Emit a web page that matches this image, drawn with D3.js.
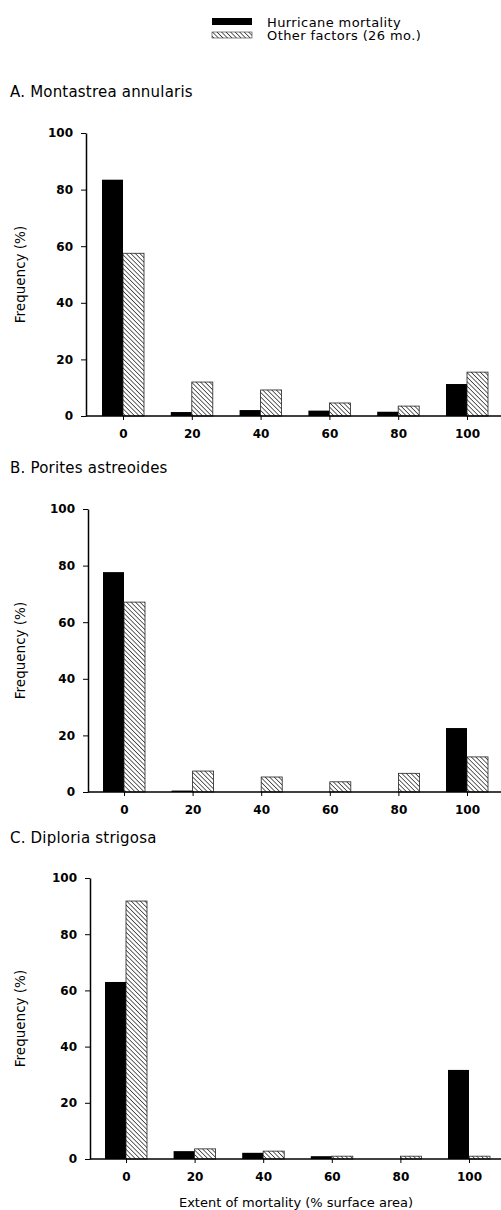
<!DOCTYPE html>
<html>
<head>
<meta charset="utf-8">
<script src="https://cdn.jsdelivr.net/npm/d3@7"></script>
<style>
  body { margin: 0; background: #fff; }
  svg { display: block; font-family: "DejaVu Sans", sans-serif; }
</style>
</head>
<body>
<div id="chart"></div>
<script>

// Data
const categories = [0, 20, 40, 60, 80, 100];
const panelTitles = ["A. Montastrea annularis", "B. Porites astreoides", "C. Diploria strigosa"];
const hurricaneA = [83.5, 1.4, 2.1, 1.9, 1.5, 11.3];
const otherA = [57.5, 12, 9.2, 4.6, 3.5, 15.5];
const hurricaneB = [77.7, 0.5, 0, 0, 0, 22.6];
const otherB = [67.1, 7.4, 5.3, 3.6, 6.6, 12.4];
const hurricaneC = [63, 2.8, 2.2, 1, 0, 31.7];
const otherC = [91.8, 3.6, 2.8, 1, 1, 1];
const yTicks = [0, 20, 40, 60, 80, 100];
const legendLabels = ["Hurricane mortality", "Other factors (26 mo.)"];

const width = 501, height = 1210;
const font = "DejaVu Sans, sans-serif";

const svg = d3.select("#chart")
  .append("svg")
    .attr("width", width)
    .attr("height", height);

//Hatch pattern for "other factors", lines running top-left to bottom-right
const defs = svg.append("defs");
const pattern = defs.append("pattern")
  .attr("id", "hatch")
  .attr("patternUnits", "userSpaceOnUse")
  .attr("width", 3.2)
  .attr("height", 3.2)
  .attr("patternTransform", "rotate(45)");
pattern.append("rect")
  .attr("width", 3.2).attr("height", 3.2).attr("fill", "#fff");
pattern.append("line")
  .attr("x1", 0).attr("y1", 0).attr("x2", 3.2).attr("y2", 0)
  .attr("stroke", "#111").attr("stroke-width", 1.3);

//Legend
const legend = svg.append("g");
legend.append("rect")
  .attr("x", 212).attr("y", 18).attr("width", 40).attr("height", 7)
  .attr("fill", "#000");
legend.append("rect")
  .attr("x", 212).attr("y", 32).attr("width", 40).attr("height", 6)
  .attr("fill", "url(#hatch)").attr("stroke", "#333").attr("stroke-width", 0.6);
legend.selectAll("text")
  .data(legendLabels)
  .join("text")
    .attr("x", 267)
    .attr("y", (d, i) => 27 + i * 13)
    .attr("font-size", 13)
    .attr("letter-spacing", 0.4)
    .text(d => d);

//Panel layout
const panels = [
  { title: panelTitles[0], hurricane: hurricaneA, other: otherA, titleY: 97,  axisX: 86, y0: 416,  y100: 133, x0: 123, x100: 467 },
  { title: panelTitles[1], hurricane: hurricaneB, other: otherB, titleY: 473, axisX: 88, y0: 792,  y100: 509, x0: 124, x100: 467 },
  { title: panelTitles[2], hurricane: hurricaneC, other: otherC, titleY: 843, axisX: 90, y0: 1159, y100: 878, x0: 126, x100: 469 }
];

const barW = 21;

panels.forEach((p, pi) => {

  const g = svg.append("g");

  const xScale = d3.scaleLinear().domain([0, 100]).range([p.x0, p.x100]);
  const yScale = d3.scaleLinear().domain([0, 100]).range([p.y0, p.y100]);

  g.append("text")
    .attr("x", 10)
    .attr("y", p.titleY)
    .attr("font-size", 15)
    .attr("letter-spacing", 0.2)
    .text(p.title);

  //Bars
  const rows = categories.map((c, i) => ({ c, h: p.hurricane[i], o: p.other[i] }));

  g.selectAll(".hur")
    .data(rows)
    .join("rect")
      .attr("class", "hur")
      .attr("x", d => xScale(d.c) - barW)
      .attr("y", d => yScale(d.h))
      .attr("width", barW)
      .attr("height", d => yScale(0) - yScale(d.h))
      .attr("fill", "#000");

  g.selectAll(".oth")
    .data(rows.filter(d => d.o > 0))
    .join("rect")
      .attr("class", "oth")
      .attr("x", d => xScale(d.c))
      .attr("y", d => yScale(d.o))
      .attr("width", barW)
      .attr("height", d => yScale(0) - yScale(d.o))
      .attr("fill", "url(#hatch)")
      .attr("stroke", "#222")
      .attr("stroke-width", 0.8);

  //Y axis
  const yAxis = g.append("g")
    .attr("transform", `translate(${p.axisX},0)`)
    .call(d3.axisLeft(yScale).tickValues(yTicks).tickSize(5).tickPadding(8).tickSizeOuter(0));
  yAxis.select(".domain").attr("stroke-width", 1.5);
  yAxis.selectAll("text").attr("font-size", 12).attr("font-weight", "bold").attr("font-family", font);

  //X axis, baseline to the right edge
  const xAxis = g.append("g")
    .attr("transform", `translate(0,${p.y0})`)
    .call(d3.axisBottom(xScale).tickValues(categories).tickSize(4).tickPadding(9));
  xAxis.select(".domain").remove();
  xAxis.selectAll("text").attr("font-size", 12).attr("font-weight", "bold").attr("font-family", font);
  g.append("line")
    .attr("x1", p.axisX).attr("x2", width)
    .attr("y1", p.y0).attr("y2", p.y0)
    .attr("stroke", "#000").attr("stroke-width", 1.5);

  //Y axis title
  g.append("text")
    .attr("transform", `translate(25,${(p.y0 + p.y100) / 2}) rotate(-90)`)
    .attr("text-anchor", "middle")
    .attr("font-size", 13.5)
    .text("Frequency (%)");

  if (pi === panels.length - 1) {
    g.append("text")
      .attr("x", 296)
      .attr("y", p.y0 + 48)
      .attr("text-anchor", "middle")
      .attr("font-size", 13)
      .text("Extent of mortality (% surface area)");
  }
});

</script>
</body>
</html>
